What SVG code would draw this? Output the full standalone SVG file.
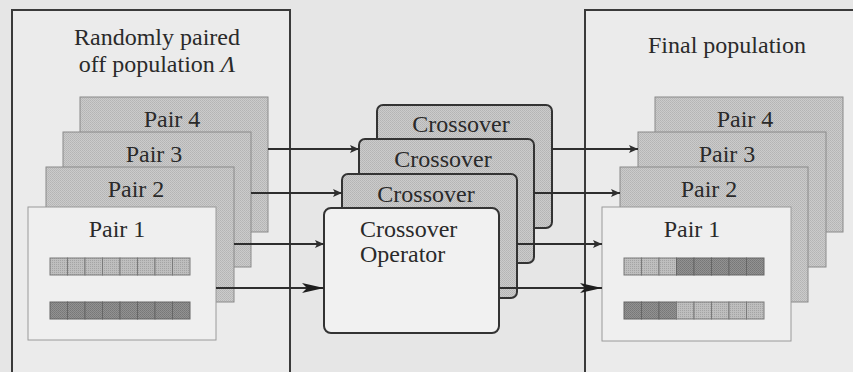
<svg xmlns="http://www.w3.org/2000/svg" width="853" height="372" viewBox="0 0 853 372">
<style>
.t{font-family:'Liberation Serif','Times New Roman',serif;font-size:24px;fill:#2a2a2a}
.outer{fill:#ebebeb;stroke:#3a3a3a;stroke-width:2}
.card{fill:url(#hatch);stroke:#8a8a8a;stroke-width:1}
.front{fill:#efefef;stroke:#9a9a9a;stroke-width:1}
.xbox{fill:url(#hatch);stroke:#333;stroke-width:2}
.xfront{fill:#f1f1f1;stroke:#333;stroke-width:2}
.con{stroke:#2e2e2e;stroke-width:2;fill:none}
.light{fill:url(#lightp);stroke:#7a7a7a;stroke-width:1}
.dark{fill:url(#darkp);stroke:#666;stroke-width:1}
</style>
<defs>
<pattern id="hatch" width="2" height="2" patternUnits="userSpaceOnUse">
<rect width="2" height="2" fill="#cbcbcb"/>
<rect width="1" height="1" fill="#b4b4b4"/>
<rect x="1" y="1" width="1" height="1" fill="#b9b9b9"/>
</pattern>
<pattern id="lightp" width="2" height="2" patternUnits="userSpaceOnUse">
<rect width="2" height="2" fill="#bebebe"/>
<rect width="1" height="1" fill="#a4a4a4"/>
</pattern>
<pattern id="darkp" width="2" height="2" patternUnits="userSpaceOnUse">
<rect width="2" height="2" fill="#929292"/>
<rect width="1" height="1" fill="#777"/>
<rect x="1" y="1" width="1" height="1" fill="#7d7d7d"/>
</pattern>
<marker id="sa" markerWidth="9" markerHeight="8" refX="9" refY="4" orient="auto" markerUnits="userSpaceOnUse">
<path d="M0,0 L9,4 L0,8 L2,4 z" fill="#2e2e2e"/>
</marker>
<marker id="ba" markerWidth="22" markerHeight="10" refX="22" refY="5" orient="auto" markerUnits="userSpaceOnUse">
<path d="M0,0 L22,5 L0,10 L5,5 z" fill="#1e1e1e"/>
</marker>
</defs>
<rect width="853" height="372" fill="#e6e6e6"/>

<g id="left-population">
<rect class="outer" x="12" y="10" width="278" height="370"/>
<text class="t" x="157" y="45" text-anchor="middle">Randomly paired</text>
<text class="t" x="157" y="72" text-anchor="middle">off population <tspan font-style="italic">Λ</tspan></text>
</g>
<g id="right-population">
<rect class="outer" x="585" y="10" width="280" height="370"/>
<text class="t" x="727" y="53" text-anchor="middle">Final population</text>
</g>

<g id="left-pair4"><rect class="card" x="80" y="97" width="188" height="135"/><text class="t" x="172" y="127" text-anchor="middle">Pair 4</text></g>
<g id="left-pair3"><rect class="card" x="63" y="132" width="188" height="135"/><text class="t" x="154" y="162" text-anchor="middle">Pair 3</text></g>
<g id="left-pair2"><rect class="card" x="46" y="167" width="188" height="135"/><text class="t" x="136" y="197" text-anchor="middle">Pair 2</text></g>
<g id="left-pair1">
<rect class="front" x="28" y="207" width="188" height="133"/>
<text class="t" x="117" y="237" text-anchor="middle">Pair 1</text>
<g class="light"><rect x="50" y="258" width="17.5" height="17"/><rect x="67.5" y="258" width="17.5" height="17"/><rect x="85" y="258" width="17.5" height="17"/><rect x="102.5" y="258" width="17.5" height="17"/><rect x="120" y="258" width="17.5" height="17"/><rect x="137.5" y="258" width="17.5" height="17"/><rect x="155" y="258" width="17.5" height="17"/><rect x="172.5" y="258" width="17.5" height="17"/></g>
<g class="dark"><rect x="50" y="302" width="17.5" height="17"/><rect x="67.5" y="302" width="17.5" height="17"/><rect x="85" y="302" width="17.5" height="17"/><rect x="102.5" y="302" width="17.5" height="17"/><rect x="120" y="302" width="17.5" height="17"/><rect x="137.5" y="302" width="17.5" height="17"/><rect x="155" y="302" width="17.5" height="17"/><rect x="172.5" y="302" width="17.5" height="17"/></g>
</g>

<g id="crossover4"><rect class="xbox" x="377" y="105" width="175" height="123" rx="6"/><text class="t" x="461" y="132" text-anchor="middle">Crossover</text></g>
<g id="crossover3"><rect class="xbox" x="359" y="139" width="175" height="124" rx="6"/><text class="t" x="443" y="167" text-anchor="middle">Crossover</text></g>
<g id="crossover2"><rect class="xbox" x="342" y="174" width="175" height="124" rx="6"/><text class="t" x="426" y="202" text-anchor="middle">Crossover</text></g>
<g id="crossover1"><rect class="xfront" x="324" y="208" width="175" height="125" rx="7"/><text class="t" x="360" y="237">Crossover</text><text class="t" x="360" y="262">Operator</text></g>

<g id="right-pair4"><rect class="card" x="655" y="97" width="188" height="135"/><text class="t" x="745" y="127" text-anchor="middle">Pair 4</text></g>
<g id="right-pair3"><rect class="card" x="638" y="132" width="188" height="135"/><text class="t" x="727" y="162" text-anchor="middle">Pair 3</text></g>
<g id="right-pair2"><rect class="card" x="620" y="167" width="188" height="135"/><text class="t" x="709" y="197" text-anchor="middle">Pair 2</text></g>
<g id="right-pair1">
<rect class="front" x="602" y="207" width="189" height="134"/>
<text class="t" x="692" y="237" text-anchor="middle">Pair 1</text>
<g class="light"><rect x="624" y="258" width="17.5" height="17"/><rect x="641.5" y="258" width="17.5" height="17"/><rect x="659" y="258" width="17.5" height="17"/></g>
<g class="dark"><rect x="676.5" y="258" width="17.5" height="17"/><rect x="694" y="258" width="17.5" height="17"/><rect x="711.5" y="258" width="17.5" height="17"/><rect x="729" y="258" width="17.5" height="17"/><rect x="746.5" y="258" width="17.5" height="17"/></g>
<g class="dark"><rect x="624" y="302" width="17.5" height="17"/><rect x="641.5" y="302" width="17.5" height="17"/><rect x="659" y="302" width="17.5" height="17"/></g>
<g class="light"><rect x="676.5" y="302" width="17.5" height="17"/><rect x="694" y="302" width="17.5" height="17"/><rect x="711.5" y="302" width="17.5" height="17"/><rect x="729" y="302" width="17.5" height="17"/><rect x="746.5" y="302" width="17.5" height="17"/></g>
</g>

<g id="connectors">
<line class="con" x1="268" y1="149" x2="359" y2="149" marker-end="url(#sa)"/>
<line class="con" x1="251" y1="193" x2="342" y2="193" marker-end="url(#sa)"/>
<line class="con" x1="234" y1="244" x2="324" y2="244" marker-end="url(#sa)"/>
<line class="con" x1="216" y1="288" x2="324" y2="288" marker-end="url(#ba)"/>
<line class="con" x1="552" y1="149" x2="638" y2="149" marker-end="url(#sa)"/>
<line class="con" x1="534" y1="193" x2="620" y2="193" marker-end="url(#sa)"/>
<line class="con" x1="517" y1="244" x2="602" y2="244" marker-end="url(#sa)"/>
<line class="con" x1="499" y1="288" x2="602" y2="288" marker-end="url(#ba)"/>
</g>
</svg>
